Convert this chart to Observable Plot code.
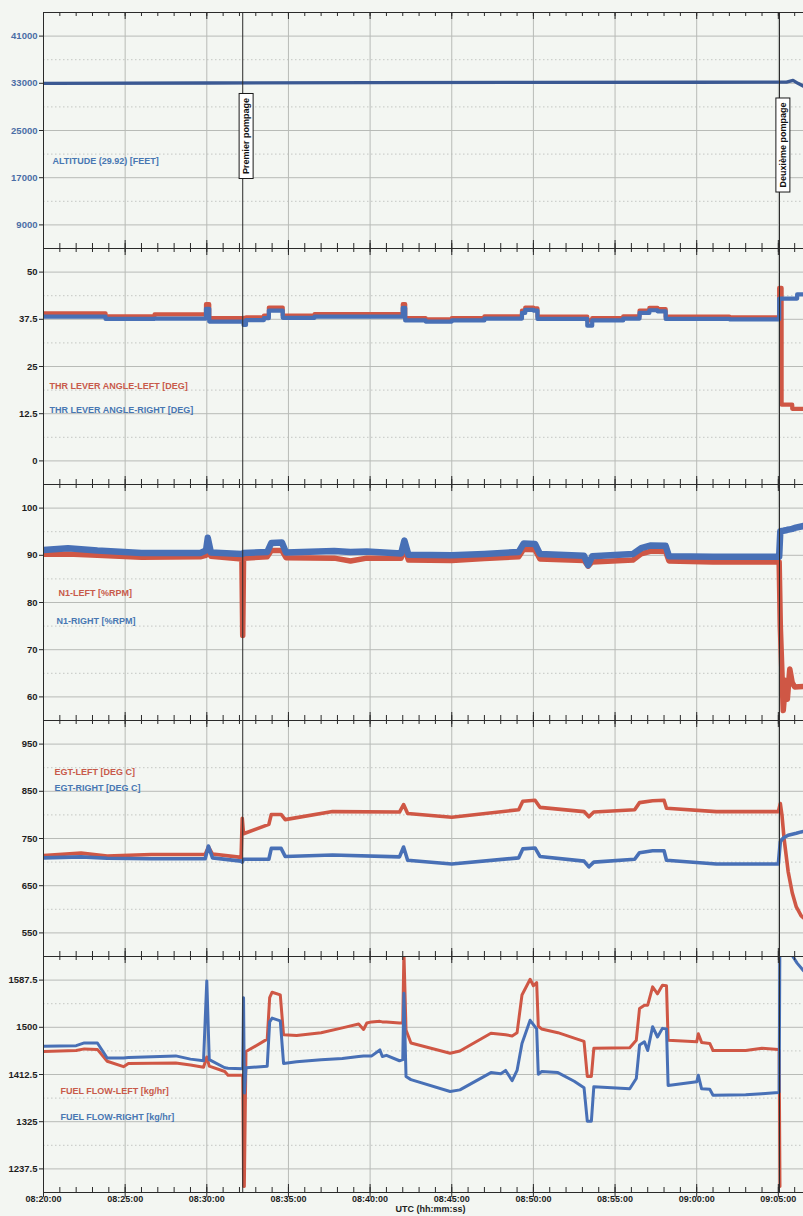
<!DOCTYPE html>
<html><head><meta charset="utf-8">
<script src="https://cdn.jsdelivr.net/npm/d3@7"></script>
<script src="https://cdn.jsdelivr.net/npm/@observablehq/plot@0.6"></script>
<style>
html,body{margin:0;padding:0;background:#f3f6f2;}
#chart{width:803px;}
#chart svg{display:block;overflow:visible;background:transparent;}
</style></head><body><div id="chart"></div>
<script>
// ---------- DATA (time = minutes after 08:20:00 UTC) ----------
const xTickLabels = ["08:20:00","08:25:00","08:30:00","08:35:00","08:40:00","08:45:00","08:50:00","08:55:00","09:00:00","09:05:00"];
const eventLabels = ["Premier pompage", "Deuxième pompage"];
const eventMinutes = [12.2, 45.07];

const altTicks = [9000, 17000, 25000, 33000, 41000];
const thrTicks = [0, 12.5, 25, 37.5, 50];
const n1Ticks = [60, 70, 80, 90, 100];
const egtTicks = [550, 650, 750, 850, 950];
const ffTicks = [1237.5, 1325, 1412.5, 1500, 1587.5];

const altT = [0, 10, 20, 30, 40, 45.5, 45.9, 46.2, 46.54];
const altV = [33000, 33050, 33100, 33150, 33180, 33200, 33500, 33000, 32500];

const thrT = [0, 3.8, 6.8, 9.95, 10.15, 12.15, 12.25, 12.4, 13.5, 13.8,
              14.65, 16.6, 22.0, 22.15, 23.4, 25.0, 27.0, 29.3, 29.5, 30.0,
              30.25, 33.3, 33.6, 35.5, 36.5, 37.1, 37.6, 38.1, 42.0, 45.05,
              45.2, 45.85, 46.15, 46.54];
const thrLeft = [39.1, 38.3, 38.8, 41.5, 37.8, 37.8, 37.9, 38.0, 38.5, 40.6,
                 38.5, 38.9, 41.5, 37.8, 37.5, 37.8, 38.3, 39.8, 40.6, 40.4,
                 38.2, 37.2, 37.8, 38.3, 39.8, 40.5, 40.2, 38.2, 38.0, 45.8,
                 14.9, 13.8, 13.8, 13.8];
const thrRight = [38.2, 37.6, 37.7, 40.3, 36.9, 36.9, 36.0, 37.3, 37.8, 39.8,
                  37.9, 38.2, 40.5, 37.2, 36.9, 37.2, 37.7, 39.2, 40.0, 39.8,
                  37.6, 35.8, 37.2, 37.7, 39.2, 39.9, 39.6, 37.6, 37.5, 43.0,
                  43.0, 43.0, 44.1, 44.1];

const n1T = [0, 1.5, 3.3, 6, 9.6, 9.95, 10.06, 10.25, 12.15, 12.2,
             12.25, 13.7, 13.95, 14.6, 14.85, 17.8, 18.8, 19.8, 21.9, 22.1,
             22.35, 25, 27, 29.1, 29.4, 30.1, 30.4, 33.1, 33.35, 33.6,
             36.1, 36.6, 37.2, 38.1, 38.3, 41, 45.05, 45.12, 45.3, 45.45,
             45.55, 45.7, 45.85, 46.0, 46.54];
const n1Left = [90.2, 90.3, 90.0, 89.6, 89.7, 90.0, 91.5, 89.8, 89.2, 73.0,
                89.4, 89.7, 91.0, 91.0, 89.5, 89.4, 88.8, 89.4, 89.4, 91.5,
                89.0, 88.9, 89.3, 89.7, 91.3, 91.2, 89.2, 88.9, 87.7, 88.6,
                89.0, 90.3, 90.9, 90.8, 88.8, 88.6, 88.6, 75.0, 57.1, 63.5,
                59.5, 65.9, 63.0, 62.1, 62.2];
const n1Right = [91.1, 91.5, 91.0, 90.5, 90.5, 91.0, 93.7, 90.6, 90.3, 90.3,
                 90.5, 90.7, 92.6, 92.7, 90.6, 90.9, 90.7, 90.8, 90.4, 93.1,
                 90.1, 90.0, 90.3, 90.7, 92.5, 92.4, 90.3, 89.9, 87.9, 89.8,
                 90.3, 91.5, 92.1, 92.0, 89.8, 89.7, 89.7, 95.1, 95.2, 95.3,
                 95.4, 95.5, 95.6, 95.8, 96.2];

const egtT = [0, 2.3, 3.9, 6.6, 9.9, 10.1, 10.35, 12.1, 12.17, 12.25,
              13.8, 13.95, 14.55, 14.8, 17.7, 21.8, 22.05, 22.3, 25, 29.1,
              29.35, 30.1, 30.4, 33.1, 33.4, 33.7, 36.2, 36.5, 37.3, 38.0,
              38.15, 41.2, 45.0, 45.12, 45.22, 45.35, 45.6, 45.85, 46.1, 46.4,
              46.54];
const egtLeft = [714, 719, 713, 716, 716, 732, 717, 710, 793, 760,
                 780, 801, 801, 790, 807, 806, 822, 803, 795, 811,
                 829, 831, 816, 807, 796, 806, 811, 826, 830, 831,
                 814, 807, 807, 824, 800, 750, 680, 635, 605, 586,
                 582];
const egtRight = [709, 711, 708, 707, 707, 734, 709, 702, 700, 706,
                  706, 729, 729, 712, 715, 711, 732, 704, 696, 709,
                  728, 730, 712, 702, 690, 700, 706, 720, 724, 724,
                  704, 696, 696, 743, 748, 752, 757, 759, 761, 764,
                  765];

const ffT = [0, 2.0, 2.5, 3.3, 3.9, 4.9, 5.2, 8.1, 9.0, 9.8,
             10.0, 10.15, 11.1, 11.3, 12.2, 12.25, 12.3, 12.4, 13.7, 13.85,
             14.0, 14.5, 14.7, 15.5, 17.0, 18.3, 19.3, 19.6, 19.8, 20.1,
             20.6, 20.75, 21.0, 21.8, 22.0, 22.07, 22.2, 22.5, 24.9, 25.5,
             27.4, 28.0, 28.3, 28.7, 29.0, 29.3, 29.8, 30.0, 30.2, 30.3,
             30.5, 31.5, 32.5, 33.1, 33.3, 33.55, 33.7, 35.9, 36.3, 36.5,
             36.8, 37.0, 37.3, 37.6, 37.9, 38.15, 38.25, 40.0, 40.1, 40.3,
             40.8, 41.0, 43.0, 44.0, 45.0, 45.05, 45.1, 45.7, 46.15, 46.54];
const ffLeft = [1455, 1457, 1460, 1459, 1437, 1427, 1433, 1434, 1430, 1426,
                1445, 1428, 1418, 1411, 1411, 1205, 1205, 1455, 1478, 1555,
                1565, 1560, 1486, 1485, 1490, 1499, 1506, 1496, 1508, 1510,
                1511, 1510, 1510, 1508, 1508, 1640, 1495, 1471, 1452, 1456,
                1489, 1487, 1486, 1484, 1490, 1560, 1589, 1577, 1583, 1502,
                1497, 1490, 1480, 1474, 1409, 1409, 1461, 1462, 1476, 1535,
                1541, 1541, 1575, 1562, 1578, 1577, 1476, 1473, 1488, 1472,
                1470, 1457, 1457, 1461, 1459, 1457, 1205, null, null, null];
const ffRight = [1465, 1466, 1471, 1471, 1443, 1443, 1444, 1447, 1441, 1438,
                 1586, 1440, 1425, 1424, 1423, 1555, 1378, 1425, 1428, 1510,
                 1517, 1512, 1433, 1436, 1440, 1442, 1446, 1447, 1447, 1447,
                 1458, 1446, 1448, 1438, 1440, 1563, 1409, 1403, 1381, 1384,
                 1416, 1414, 1420, 1401, 1420, 1470, 1513, 1505, 1497, 1413,
                 1418, 1416, 1400, 1388, 1326, 1326, 1390, 1386, 1405, 1467,
                 1473, 1457, 1501, 1482, 1498, 1497, 1392, 1399, 1411, 1386,
                 1385, 1374, 1375, 1377, 1379, 1380, 1700, 1640, 1619, 1605];

// ---------- SETUP ----------
const T0 = Date.UTC(2009, 5, 1, 8, 20, 0);
const toDate = m => new Date(T0 + m * 60000);
const parseTick = s => { const [h, mi, se] = s.split(":").map(Number); return toDate(h * 60 + mi + se / 60 - 500); };
const xStart = toDate(0), xEnd = toDate(46.54);
const fiveMin = xTickLabels.map(parseTick);
const minuteTicks = d3.utcMinute.range(xStart, xEnd);
const events = eventMinutes.map((m, i) => ({date: toDate(m), label: eventLabels[i]}));
const fmt = d3.utcFormat("%H:%M:%S");

const RED = "#cf5745", BLUE = "#4870b6", ALT = "#3b5993";
const LRED = "#c85a4a", LBLUE = "#4877b2";
const INK = "#2a2a2a";
const H = 236, W = 803, ML = 43;

const series = (t, v) => t.map((m, i) => ({date: toDate(m), value: v[i]}));

function makePanel(cfg) {
  const step = cfg.yTicks[1] - cfg.yTicks[0];
  const yDomain = [cfg.yTicks[0] - step / 2, cfg.yTicks[cfg.yTicks.length - 1] + step / 2];
  const minorY = d3.pairs(cfg.yTicks).map(([a, b]) => (a + b) / 2);
  const mt = cfg.marginTop || 0, mb = cfg.marginBottom || 0;
  const marks = [
    Plot.gridY(minorY, {stroke: "#c4c7c3", strokeOpacity: 1, strokeDasharray: "1.5,2.5"}),
    Plot.gridY(cfg.yTicks, {stroke: "#b8bbb7", strokeOpacity: 1}),
    Plot.gridX(fiveMin, {stroke: "#b8bbb7", strokeOpacity: 1}),
    ...cfg.lines.map(l => Plot.line(series(l.t, l.v), {
      x: "date", y: "value", stroke: l.color, strokeWidth: l.width,
      curve: cfg.curve || "linear", clip: true, strokeLinejoin: "round"
    })),
    Plot.ruleX(events, {x: "date", stroke: INK, strokeWidth: 1}),
    Plot.ruleY([yDomain[1]], {stroke: INK, strokeWidth: 1}),
    Plot.ruleX([xStart], {stroke: INK, strokeWidth: 1}),
    Plot.ruleX(minuteTicks, {stroke: INK, insetBottom: H - 4}),
    Plot.ruleX(fiveMin, {stroke: INK, insetBottom: H - 7}),
    Plot.ruleX(minuteTicks, {stroke: INK, insetTop: H - 5}),
    Plot.ruleX(fiveMin, {stroke: INK, insetTop: H - 8}),
    Plot.axisY(cfg.yTicks, {tickSize: 4, tickPadding: 2, tickFormat: d => String(d), label: null,
      stroke: INK, fill: cfg.tickColor || "#1e1e1e", fontSize: 9.5}),
    ...cfg.labels.map(lb => Plot.text([lb.text], {
      text: d => d, frameAnchor: "top-left", dx: lb.dx, dy: lb.dy,
      textAnchor: "start", lineAnchor: "middle", fill: lb.color, fontSize: 9
    })),
    ...(cfg.extra || [])
  ];
  return Plot.plot({
    width: W, height: H + mt + mb,
    marginLeft: ML, marginRight: 0, marginTop: mt, marginBottom: mb,
    x: cfg.xAxis ? {type: "utc", domain: [xStart, xEnd], label: null} : {type: "utc", domain: [xStart, xEnd], axis: null},
    y: {domain: yDomain, label: null},
    style: {background: "transparent", overflow: "visible", fontFamily: "'Liberation Sans', Arial, sans-serif", fontWeight: "bold", fontSize: "9px"},
    marks
  });
}

const panels = [
  makePanel({
    yTicks: altTicks, marginTop: 12, tickColor: "#4a6ea6",
    lines: [{t: altT, v: altV, color: ALT, width: 3.3}],
    labels: [{text: "ALTITUDE (29.92) [FEET]", dx: 9, dy: 149, color: LBLUE}],
    extra: [
      Plot.text([events[0]], {x: "date", text: "label", frameAnchor: "top", dy: 123.5, rotate: -90, fill: "#111", fontSize: 9}),
      Plot.text([events[1]], {x: "date", text: "label", frameAnchor: "top", dy: 132.5, rotate: -90, fill: "#111", fontSize: 9})
    ]
  }),
  makePanel({
    yTicks: thrTicks, curve: "step-after",
    lines: [{t: thrT, v: thrLeft, color: RED, width: 4.2}, {t: thrT, v: thrRight, color: BLUE, width: 4.2}],
    labels: [
      {text: "THR LEVER ANGLE-LEFT [DEG]", dx: 6, dy: 138, color: LRED},
      {text: "THR LEVER ANGLE-RIGHT [DEG]", dx: 6, dy: 162, color: LBLUE}
    ]
  }),
  makePanel({
    yTicks: n1Ticks,
    lines: [{t: n1T, v: n1Left, color: RED, width: 5.5}, {t: n1T, v: n1Right, color: BLUE, width: 6.5}],
    labels: [
      {text: "N1-LEFT [%RPM]", dx: 15, dy: 109, color: LRED},
      {text: "N1-RIGHT [%RPM]", dx: 13, dy: 137, color: LBLUE}
    ]
  }),
  makePanel({
    yTicks: egtTicks,
    lines: [{t: egtT, v: egtLeft, color: RED, width: 3.6}, {t: egtT, v: egtRight, color: BLUE, width: 3.6}],
    labels: [
      {text: "EGT-LEFT [DEG C]", dx: 11, dy: 52, color: LRED},
      {text: "EGT-RIGHT [DEG C]", dx: 11, dy: 68, color: LBLUE}
    ]
  }),
  makePanel({
    yTicks: ffTicks, marginBottom: 24, xAxis: true,
    lines: [{t: ffT, v: ffLeft, color: RED, width: 3}, {t: ffT, v: ffRight, color: BLUE, width: 3}],
    labels: [
      {text: "FUEL FLOW-LEFT [kg/hr]", dx: 17, dy: 135, color: LRED},
      {text: "FUEL FLOW-RIGHT [kg/hr]", dx: 17, dy: 161, color: LBLUE}
    ],
    extra: [
      Plot.ruleY([ffTicks[0] - (ffTicks[1] - ffTicks[0]) / 2], {stroke: INK, strokeWidth: 1}),
      Plot.ruleX(fiveMin, {stroke: INK, insetTop: H, insetBottom: -5}),
      Plot.axisX(fiveMin, {anchor: "bottom", tickSize: 0, tickPadding: 3, tickFormat: fmt, label: null, fill: "#1e1e1e", fontSize: 9}),
      Plot.text(["UTC (hh:mm:ss)"], {text: d => d, frameAnchor: "bottom", dx: 7, dy: 16.5, lineAnchor: "middle", fill: "#1e1e1e", fontSize: 9})
    ]
  })
];

const container = document.getElementById("chart");
panels.forEach(p => container.appendChild(p));

// white boxes behind the event labels
const NS = "http://www.w3.org/2000/svg";
panels[0].querySelectorAll("text").forEach(t => {
  if (eventLabels.includes(t.textContent)) {
    const b = t.getBBox();
    const r = document.createElementNS(NS, "rect");
    r.setAttribute("x", b.x - 4.5);
    r.setAttribute("y", b.y - 2);
    r.setAttribute("width", b.width + 9);
    r.setAttribute("height", b.height + 4);
    const tr = t.getAttribute("transform");
    if (tr) r.setAttribute("transform", tr);
    r.setAttribute("fill", "#ffffff");
    r.setAttribute("stroke", "#1a1a1a");
    r.setAttribute("stroke-width", "1");
    t.parentNode.insertBefore(r, t);
  }
});
</script></body></html>
